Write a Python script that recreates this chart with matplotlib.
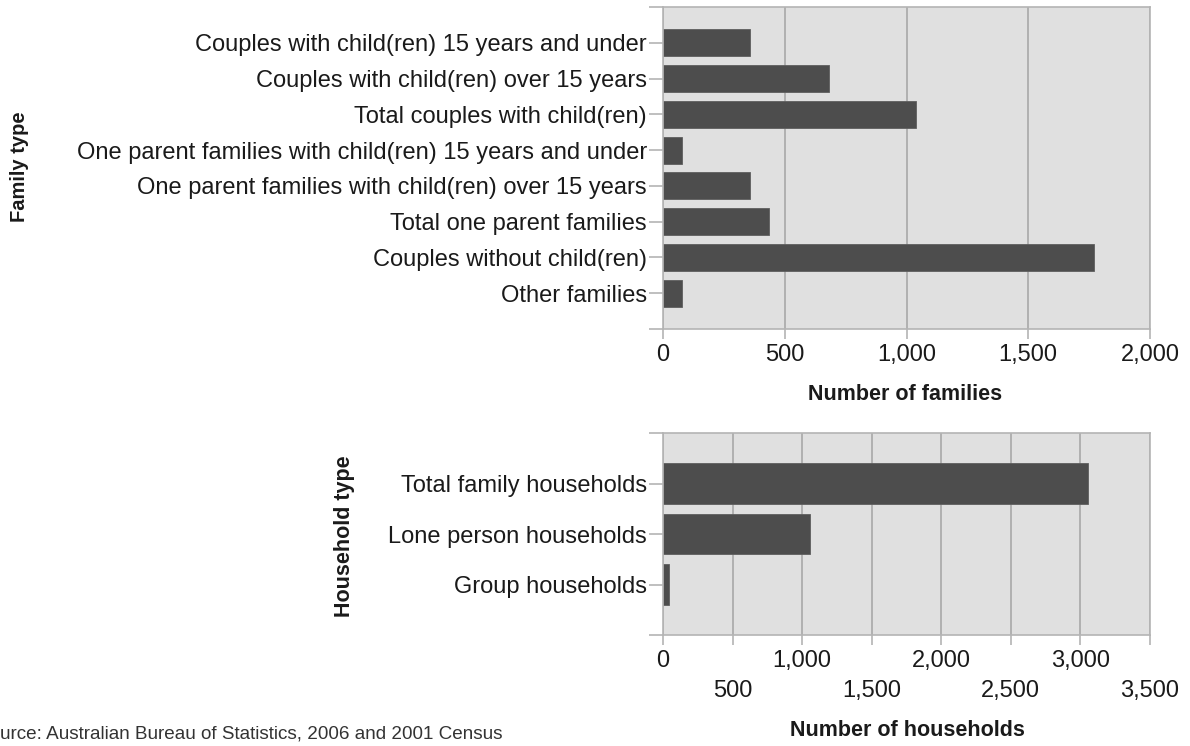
import matplotlib
matplotlib.use("Agg")
import matplotlib.pyplot as plt

plt.rcParams['font.family'] = ['Liberation Sans', 'DejaVu Sans']

# Family composition (top panel)
family_types = [
    "Couples with child(ren) 15 years and under",
    "Couples with child(ren) over 15 years",
    "Total couples with child(ren)",
    "One parent families with child(ren) 15 years and under",
    "One parent families with child(ren) over 15 years",
    "Total one parent families",
    "Couples without child(ren)",
    "Other families",
]
family_counts = [357, 683, 1040, 77, 357, 434, 1772, 80]
family_ticks = [0, 500, 1000, 1500, 2000]

# Household composition (bottom panel)
household_types = [
    "Total family households",
    "Lone person households",
    "Group households",
]
household_counts = [3052, 1057, 45]
household_major = [0, 1000, 2000, 3000]
household_minor = [500, 1500, 2500, 3500]

W, H = 1190, 746
BG = '#e0e0e0'
BAR = '#4d4d4d'
GRID = '#a8a8a8'
EDGE = '#b4b4b4'
TXT = '#1a1a1a'
LBL = 17      # tick label size
TTL = 15.5    # axis title size

fig = plt.figure(figsize=(W / 100, H / 100), dpi=100)


def px_axes(x0, y0, x1, y1):
    return fig.add_axes([x0 / W, 1 - y1 / H, (x1 - x0) / W, (y1 - y0) / H])


def style(ax):
    ax.set_facecolor(BG)
    for s in ax.spines.values():
        s.set_color(EDGE)
        s.set_linewidth(1.2)
    ax.grid(axis='x', which='both', color=GRID, linewidth=1.2)
    ax.set_axisbelow(True)
    ax.tick_params(axis='x', which='both', length=7, width=1.2, color=EDGE,
                   labelsize=LBL, labelcolor=TXT, pad=3.8)
    ax.tick_params(axis='y', which='both', length=10, width=1.2, color=EDGE,
                   labelsize=LBL, labelcolor=TXT, pad=1.5)


# top panel
ax1 = px_axes(663, 7, 1150, 329)
style(ax1)
ypos = list(range(len(family_types)))
ax1.barh(ypos, family_counts, height=0.76, color=BAR, edgecolor='#5e5e5e', linewidth=0.6)
ax1.set_yticks(ypos)
ax1.set_yticklabels(family_types)
ax1.set_yticks([-1, len(family_types)], minor=True)
ax1.set_ylim(len(family_types), -1)
ax1.set_xlim(0, 2000)
ax1.set_xticks(family_ticks)
ax1.set_xticklabels([f"{v:,}" for v in family_ticks])

# bottom panel
ax2 = px_axes(663, 433, 1150, 635)
style(ax2)
ypos2 = list(range(len(household_types)))
ax2.barh(ypos2, household_counts, height=0.8, color=BAR, edgecolor='#5e5e5e', linewidth=0.6)
ax2.set_yticks(ypos2)
ax2.set_yticklabels(household_types)
ax2.set_yticks([-1, len(household_types)], minor=True)
ax2.set_ylim(len(household_types), -1)
ax2.set_xlim(0, 3500)
ax2.set_xticks(household_major)
ax2.set_xticklabels([f"{v:,}" for v in household_major])
ax2.set_xticks(household_minor, minor=True)
ax2.set_xticklabels([f"{v:,}" for v in household_minor], minor=True)
ax2.tick_params(axis='x', which='minor', pad=25.3)

# axis titles
fig.text(905 / W, 1 - 394 / H, "Number of families", ha='center', va='center',
         fontsize=TTL, fontweight='bold', color=TXT)
fig.text(907 / W, 1 - 730 / H, "Number of households", ha='center', va='center',
         fontsize=TTL, fontweight='bold', color=TXT)
fig.text(20 / W, 1 - 167 / H, "Family type", ha='center', va='center', rotation=90,
         fontsize=TTL - 1, fontweight='bold', color=TXT)
fig.text(344 / W, 1 - 536 / H, "Household type", ha='center', va='center', rotation=90,
         fontsize=TTL, fontweight='bold', color=TXT)

# source note, partly cut off at the left edge like the original
fig.text(-23 / W, 1 - 734 / H, "Source: Australian Bureau of Statistics, 2006 and 2001 Census",
         ha='left', va='center', fontsize=13.6, color='#333333')

fig.savefig("out.png", dpi=100)
